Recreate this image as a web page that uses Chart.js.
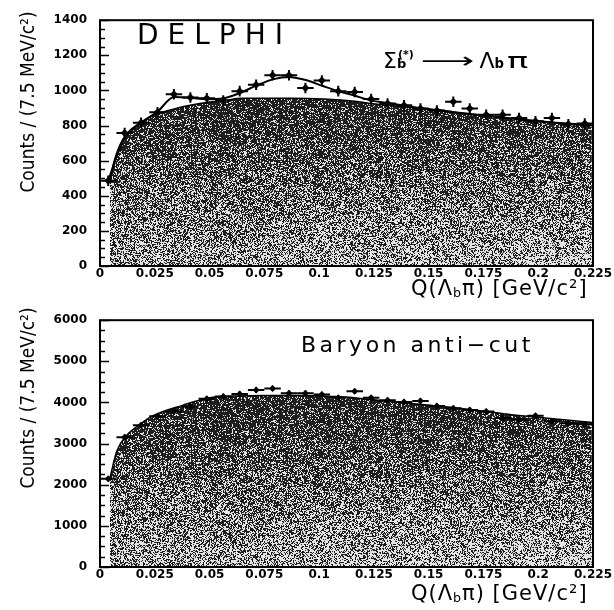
<!DOCTYPE html>
<html>
<head>
<meta charset="utf-8">
<script src="https://cdn.jsdelivr.net/npm/chart.js@4.4.1/dist/chart.umd.min.js"></script>
<style>
  body { margin: 0; background: #fff; }
  #wrap { position: relative; width: 614px; height: 610px; overflow: hidden; }
  #wrap canvas { position: absolute; left: 0; }
  .lbl { position: absolute; color: #000; white-space: nowrap; line-height: 1; font-family: "DejaVu Sans", sans-serif; }
  .ytitle { font-family: "Liberation Sans Narrow", "DejaVu Sans Condensed", "Liberation Sans", sans-serif;
            font-stretch: condensed; font-size: 19px; transform: translate(-50%, -50%) rotate(-90deg); }
  .ss { position: relative; display: inline-block; width: 19px; height: 22px; }
  .ss .sp { position: absolute; left: 1px; top: 3px; font-size: 11px; font-weight: bold; }
  .ss .sb { position: absolute; left: 0; top: 11px; font-size: 13px; font-weight: bold; }
  .bsm { font-size: 0.6em; font-weight: bold; }
  .bsub { font-size: 0.6em; vertical-align: -0.15em; }
  .arr { display: inline-block; transform: scaleX(1.7); margin: 0 16px 0 16px; }
  .pi { display: inline-block; transform: scaleX(1.6); margin-left: 7px; }
</style>
</head>
<body>
<div id="wrap">
  <canvas id="grTop" width="614" height="300" style="top:0"></canvas>
  <canvas id="grBot" width="614" height="310" style="top:300px"></canvas>

  <div class="lbl" style="left:137px; top:21px; font-size:28px; letter-spacing:9px;">DELPHI</div>
  <div class="lbl" style="left:383px; top:46px; font-size:22px;">Σ<span class="ss"><span class="sp">(*)</span><span class="sb">b</span></span><span class="arr">⟶</span>Λ<span class="bsm">b</span><span class="pi">π</span></div>
  <div class="lbl" style="left:301px; top:334px; font-size:22px; letter-spacing:3.5px;">Baryon anti−cut</div>

  <div class="lbl" style="left:411px; top:278px; font-size:21px; letter-spacing:1px;">Q(Λ<span class="bsub">b</span>π) [GeV/c²]</div>
  <div class="lbl" style="left:411px; top:583px; font-size:21px; letter-spacing:1px;">Q(Λ<span class="bsub">b</span>π) [GeV/c²]</div>

  <div class="lbl ytitle" style="left:27px; top:102px;">Counts / (7.5 MeV/c²)</div>
  <div class="lbl ytitle" style="left:27px; top:398px;">Counts / (7.5 MeV/c²)</div>
</div>

<script>
// Centros de los bins de 7.5 MeV
const binCenters = [0.00375, 0.01125, 0.01875, 0.02625, 0.03375, 0.04125, 0.04875, 0.05625, 0.06375, 0.07125,
                    0.07875, 0.08625, 0.09375, 0.10125, 0.10875, 0.11625, 0.12375, 0.13125, 0.13875, 0.14625,
                    0.15375, 0.16125, 0.16875, 0.17625, 0.18375, 0.19125, 0.19875, 0.20625, 0.21375, 0.22125];

// Panel superior: Sigma_b -> Lambda_b pi
const topCounts = [486, 757, 816, 876, 978, 960, 955, 942, 996, 1032,
                   1086, 1086, 1014, 1056, 996, 991, 951, 925, 915, 897,
                   885, 935, 897, 861, 861, 843, 825, 843, 807, 811];
const topFitX = [0.0038, 0.0075, 0.0113, 0.0188, 0.0263, 0.0338, 0.0413, 0.0488, 0.0563, 0.0638, 0.0713,
                 0.0788, 0.0863, 0.0938, 0.1013, 0.1088, 0.1163, 0.1238, 0.1313, 0.15, 0.175, 0.2, 0.2245];
const topFitY = [486, 620, 728, 815, 880, 962, 958, 950, 955, 985, 1027,
                 1063, 1077, 1059, 1027, 996, 970, 942, 928, 893, 858, 825, 801];
const topBgX = [0.0045, 0.0065, 0.0106, 0.0183, 0.0259, 0.0347, 0.0411, 0.0494, 0.0563, 0.0647, 0.0867,
                0.1019, 0.1172, 0.1247, 0.14, 0.1552, 0.1704, 0.1856, 0.2008, 0.216, 0.2245];
const topBgY = [480, 600, 726, 816, 865, 897, 915, 933, 942, 955, 955,
                951, 937, 924, 906, 888, 861, 843, 825, 807, 800];

// Panel inferior: Baryon anti-cut
const botCounts = [2143, 3156, 3445, 3663, 3780, 3897, 4090, 4146, 4208, 4301,
                   4341, 4224, 4224, 4193, 4114, 4271, 4114, 4053, 4013, 4037,
                   3912, 3857, 3819, 3780, 3623, 3585, 3679, 3546, 3492, 3469];
const botBgX = [0.0045, 0.0076, 0.0114, 0.0175, 0.0236, 0.038, 0.0502, 0.0639, 0.0761, 0.0913, 0.1065,
                0.1118, 0.127, 0.1423, 0.1575, 0.1727, 0.1879, 0.2031, 0.2183, 0.2245];
const botBgY = [2150, 2805, 3156, 3440, 3663, 3936, 4114, 4160, 4170, 4170, 4146,
                4130, 4053, 3974, 3897, 3803, 3702, 3623, 3546, 3515];

// Etiquetas de los ejes
const xTicks = [0, 0.025, 0.05, 0.075, 0.1, 0.125, 0.15, 0.175, 0.2, 0.225];
const topYTicks = [0, 200, 400, 600, 800, 1000, 1200, 1400];
const botYTicks = [0, 1000, 2000, 3000, 4000, 5000, 6000];

const halfBin = 0.00375;
const fuente = { family: 'DejaVu Sans', size: 12, weight: 'bold' };

function pares(xs, ys) {
  return xs.map((x, i) => ({ x: x, y: ys[i] }));
}

// Textura punteada tipo escaneo (determinista)
function crearTextura(chart, claroArriba, claroAbajo) {
  const w = chart.canvas.width, h = chart.canvas.height;
  const a = chart.chartArea;
  const off = document.createElement('canvas');
  off.width = w; off.height = h;
  const octx = off.getContext('2d');
  const img = octx.createImageData(w, h);
  const y0 = a.top + (a.bottom - a.top) * 0.35;
  for (let y = 0; y < h; y++) {
    const t = Math.min(1, Math.max(0, (y - y0) / (a.bottom - y0)));
    for (let x = 0; x < w; x++) {
      const s = (x - a.left) / (a.right - a.left);
      const p = claroArriba + (claroAbajo - claroArriba) * t + 0.08 * s * t;
      let k = Math.imul(x, 374761393) + Math.imul(y, 668265263);
      k = Math.imul(k ^ (k >>> 13), 1274126177);
      k = (k ^ (k >>> 16)) >>> 0;
      const v = (k % 1000) / 1000 < p ? 228 : 30;
      const idx = (y * w + x) * 4;
      img.data[idx] = v; img.data[idx + 1] = v; img.data[idx + 2] = v; img.data[idx + 3] = 255;
    }
  }
  octx.putImageData(img, 0, 0);
  return chart.ctx.createPattern(off, 'no-repeat');
}

// Marco, marcas internas del eje Y y barras de error
const marcoPlugin = {
  id: 'marco',
  afterDatasetsDraw(chart, args, opts) {
    const ctx = chart.ctx;
    const a = chart.chartArea;
    const xs = chart.scales.x, ys = chart.scales.y;
    ctx.save();
    // barras de error
    ctx.strokeStyle = '#000';
    ctx.lineWidth = 2;
    chart.data.datasets[0].data.forEach(p => {
      const px = xs.getPixelForValue(p.x);
      const py = ys.getPixelForValue(p.y);
      ctx.beginPath();
      ctx.moveTo(xs.getPixelForValue(p.x - halfBin), py);
      ctx.lineTo(xs.getPixelForValue(p.x + halfBin), py);
      ctx.moveTo(px, ys.getPixelForValue(p.y - opts.err));
      ctx.lineTo(px, ys.getPixelForValue(p.y + opts.err));
      ctx.stroke();
    });
    // marcas del eje Y
    ctx.lineWidth = 1.5;
    for (let v = ys.min; v <= ys.max; v += opts.minor) {
      const py = Math.round(ys.getPixelForValue(v)) + 0.5;
      const len = (v % opts.major === 0) ? 9 : 5;
      ctx.beginPath();
      ctx.moveTo(a.left, py);
      ctx.lineTo(a.left + len, py);
      ctx.stroke();
    }
    // marco
    ctx.lineWidth = 2;
    ctx.strokeRect(a.left, a.top, a.right - a.left, a.bottom - a.top);
    ctx.restore();
  }
};

function crearPanel(idCanvas, puntos, ajuste, fondo, yMax, yTicks, err, minor, alto, texturas, radio) {
  const datasets = [
    { data: puntos, showLine: false, pointStyle: 'rectRot', pointRadius: radio,
      pointBackgroundColor: '#000', pointBorderColor: '#000', pointBorderWidth: 0 }
  ];
  if (ajuste) {
    datasets.push({ data: ajuste, borderColor: '#000', borderWidth: 2, pointRadius: 0,
                    cubicInterpolationMode: 'monotone', fill: false });
  }
  datasets.push({
    data: fondo, borderColor: '#000', borderWidth: 1.5, pointRadius: 0,
    cubicInterpolationMode: 'monotone', fill: 'origin',
    backgroundColor(c) {
      const chart = c.chart;
      if (!chart.chartArea) return '#555';
      if (!chart.$textura) chart.$textura = crearTextura(chart, texturas[0], texturas[1]);
      return chart.$textura;
    }
  });

  new Chart(document.getElementById(idCanvas).getContext('2d'), {
    type: 'line',
    data: { datasets: datasets },
    options: {
      responsive: false,
      animation: false,
      events: [],
      layout: { padding: { top: 7, right: 21, left: 0, bottom: 0 } },
      plugins: {
        legend: { display: false },
        tooltip: { enabled: false },
        marco: { err: err, minor: minor, major: yTicks[1] }
      },
      scales: {
        x: {
          type: 'linear', min: 0, max: 0.225,
          afterBuildTicks(s) { s.ticks = xTicks.map(v => ({ value: v })); },
          afterFit(s) { s.height = alto; },
          grid: { display: false, drawTicks: false },
          border: { display: false },
          ticks: { color: '#000', font: fuente, padding: 1, maxRotation: 0, autoSkip: false,
                   callback: v => String(Number(v.toFixed(3))) }
        },
        y: {
          type: 'linear', min: 0, max: yMax,
          afterBuildTicks(s) { s.ticks = yTicks.map(v => ({ value: v })); },
          afterFit(s) { s.width = 100; },
          grid: { display: false, drawTicks: false },
          border: { display: false },
          ticks: { color: '#000', font: fuente, padding: 13, callback: v => String(v) }
        }
      }
    },
    plugins: [marcoPlugin]
  });
}

document.addEventListener('DOMContentLoaded', () => {
  crearPanel('grTop', pares(binCenters, topCounts), pares(topFitX, topFitY), pares(topBgX, topBgY),
             1400, topYTicks, 30, 50, 34, [0.16, 0.58], 4);
  crearPanel('grBot', pares(binCenters, botCounts), null, pares(botBgX, botBgY),
             6000, botYTicks, 65, 250, 43, [0.16, 0.6], 3.5);
});
</script>
</body>
</html>
